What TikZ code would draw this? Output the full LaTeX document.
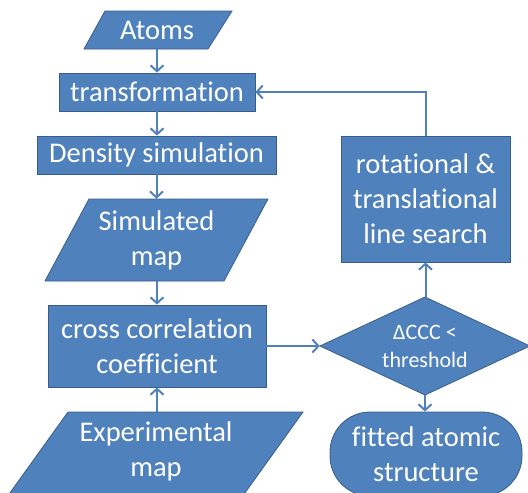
\documentclass[tikz,border=0pt]{standalone}
\usepackage{fontspec}
\setmainfont{Carlito}[RawFeature={-liga}]
\usetikzlibrary{arrows.meta,calc}
\definecolor{boxfill}{HTML}{4F81BD}
\definecolor{boxline}{HTML}{385D8A}
\begin{document}
\begin{tikzpicture}[x=1pt,y=-1pt,
  shapefill/.style={fill=boxfill, draw=boxline, line width=0.8pt},
  lbl/.style={text=white, font=\fontsize{28.5}{35}\selectfont, align=center, inner sep=0pt},
  boxnode/.style={lbl, shapefill, rectangle},
  arr/.style={draw=boxfill, line width=2pt, -{Straight Barb[length=6pt,width=13pt]}}]
\useasboundingbox (0,0) rectangle (528,493);
% Atoms
\filldraw[shapefill] (105,11) -- (232,11) -- (208,49) -- (84,49) -- cycle;
\node[lbl, minimum height=38pt] (atoms) at (157,30) {Atoms};
% transformation
\node[boxnode, minimum width=196pt, minimum height=38pt] (trans) at (157,92) {transformation};
% density simulation
\node[boxnode, minimum width=239pt, minimum height=38pt] (dens) at (156.5,155) {Density simulation};
% simulated map
\filldraw[shapefill] (89,199) -- (268,199) -- (224,281) -- (45,281) -- cycle;
\node[lbl, minimum height=82pt] (sim) at (156.5,240) {Simulated\\map};
% cross correlation
\node[boxnode, minimum width=218pt, minimum height=82pt] (ccc) at (157,346) {cross correlation\\coefficient};
% experimental map
\filldraw[shapefill] (68,412) -- (303,412) -- (242,497) -- (7,497) -- cycle;
\node[lbl, minimum height=78pt] (exp) at (156,451) {Experimental\\map};
% rotational
\node[boxnode, minimum width=169pt, minimum height=126pt] (rot) at (425.5,199) {rotational \&\\translational\\line search};
% diamond
\filldraw[shapefill] (320,346) -- (425,297) -- (530,346) -- (425,395) -- cycle;
\node[lbl, font=\fontsize{22}{28}\selectfont, minimum width=210pt, minimum height=98pt] (dia) at (425,346) {ΔCCC <\\threshold};
% fitted
\node[boxnode, rounded corners=40pt, minimum width=192pt, minimum height=84pt] (fit) at (426,454) {fitted atomic\\structure};
% arrows
\draw[arr] (atoms.south -| trans.north) -- (trans.north);
\draw[arr] (trans.south) -- (trans.south |- dens.north);
\draw[arr] (dens.south) -- (dens.south |- sim.north);
\draw[arr] (sim.south -| ccc.north) -- (ccc.north);
\draw[arr] (exp.north -| ccc.south) -- (ccc.south);
\draw[arr] (ccc.east) -- (dia.west);
\draw[arr] (rot.south |- dia.north) -- (rot.south);
\draw[arr] (dia.south) -- (dia.south |- fit.north);
\draw[arr] (rot.north) |- (trans.east);
\end{tikzpicture}
\end{document}
